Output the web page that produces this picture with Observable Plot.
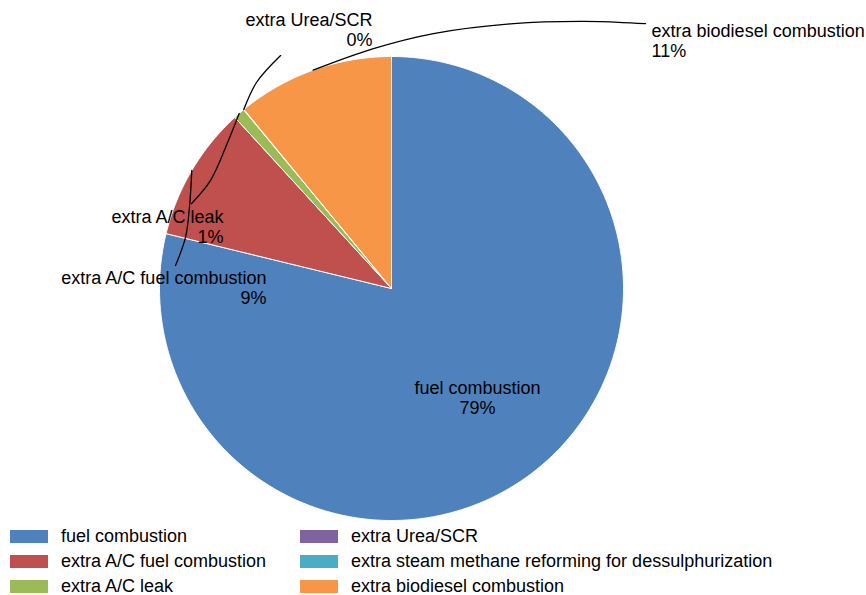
<!DOCTYPE html>
<html>
<head>
<meta charset="utf-8">
<script src="https://cdn.jsdelivr.net/npm/d3@7"></script>
<script src="https://cdn.jsdelivr.net/npm/@observablehq/plot@0.6"></script>
<style>
  body { margin: 0; background: #fff; font-family: "Liberation Sans", Arial, sans-serif; }
  #legend {
    display: grid;
    grid-template-columns: 290px auto;
    grid-template-rows: repeat(3, 25px);
    grid-auto-flow: column;
    padding-left: 10px;
    font-size: 18px;
    color: #000;
  }
  #legend .item { display: flex; align-items: center; white-space: nowrap; }
  #legend .sw { width: 38px; height: 13px; margin-right: 13px; flex: none; }
</style>
</head>
<body>
<div id="chart"></div>
<div id="legend"></div>
<script>
// datos
const categories = [
  'fuel combustion',
  'extra A/C fuel combustion',
  'extra A/C leak',
  'extra Urea/SCR',
  'extra steam methane reforming for dessulphurization',
  'extra biodiesel combustion',
]
const shares = [78.8, 9.4, 0.8, 0.03, 0, 10.97]
const colors = ['#4F81BD', '#C0504D', '#9BBB59', '#8064A2', '#4BACC6', '#F79646']

// layout: pie centre / radius in px, labels in radius units
const W = 866, H = 524, cx = 391, cy = 288, R = 232
const labelLayout = {
  'fuel combustion': {x: 0.371, y: -0.47, anchor: 'middle'},
  'extra A/C fuel combustion': {x: -0.539, y: 0.004, anchor: 'end',
    via: [[-0.871, 0.349], [-0.888, 0.22], [-0.931, 0.099]]},
  'extra A/C leak': {x: -0.724, y: 0.265, anchor: 'end',
    via: [[-0.703, 0.638], [-0.78, 0.466], [-0.862, 0.366]]},
  'extra Urea/SCR': {x: -0.082, y: 1.116, anchor: 'end',
    via: [[-0.582, 0.888], [-0.478, 1.004]]},
  'extra biodiesel combustion': {x: 1.121, y: 1.069, anchor: 'start',
    via: [[-0.078, 1.034], [0.181, 1.099], [0.526, 1.142], [0.828, 1.151], [1.095, 1.142]]},
}

const rows = categories.map((c, i) => ({cat: c, share: shares[i]}))
const arcs = d3.pie().sort(null).value(d => d.share)(rows)

// slice outlines
const slicePts = arcs.filter(a => a.value > 0).flatMap(a => {
  const n = Math.max(2, Math.ceil((a.endAngle - a.startAngle) / 0.01))
  const pts = [{cat: a.data.cat, x: 0, y: 0}]
  for (let i = 0; i <= n; i++) {
    const t = a.startAngle + (a.endAngle - a.startAngle) * i / n
    pts.push({cat: a.data.cat, x: Math.sin(t), y: Math.cos(t)})
  }
  pts.push({cat: a.data.cat, x: 0, y: 0})
  return pts
})

const labels = arcs.filter(a => a.value > 0 && labelLayout[a.data.cat]).map(a => {
  const L = labelLayout[a.data.cat]
  return {cat: a.data.cat, x: L.x, y: L.y, anchor: L.anchor,
    text: a.data.cat + '\n' + Math.round(a.value) + '%'}
})

const leaders = arcs.filter(a => a.value > 0 && labelLayout[a.data.cat] && labelLayout[a.data.cat].via).flatMap(a => {
  const mid = (a.startAngle + a.endAngle) / 2
  const via = labelLayout[a.data.cat].via
  return [{cat: a.data.cat, x: Math.sin(mid), y: Math.cos(mid)}]
    .concat(via.map(p => ({cat: a.data.cat, x: p[0], y: p[1]})))
})

const textOpts = {x: 'x', y: 'y', text: 'text', fontSize: 18, lineHeight: 1.1, fill: '#000'}

let chart = Plot.plot({
  width: W,
  height: H,
  margin: 0,
  style: {fontFamily: '"Liberation Sans", Arial, sans-serif', background: '#fff'},
  x: {domain: [-cx / R, (W - cx) / R], axis: null},
  y: {domain: [-(H - cy) / R, cy / R], axis: null},
  color: {domain: categories, range: colors},
  marks: [
    Plot.line(slicePts, {x: 'x', y: 'y', z: 'cat', fill: 'cat', stroke: '#fff', strokeWidth: 1, curve: 'linear'}),
    Plot.line(leaders, {x: 'x', y: 'y', z: 'cat', stroke: '#000', strokeWidth: 1.3, curve: 'catmull-rom'}),
    Plot.text(labels.filter(d => d.anchor === 'middle'), {...textOpts, textAnchor: 'middle'}),
    Plot.text(labels.filter(d => d.anchor === 'end'), {...textOpts, textAnchor: 'end'}),
    Plot.text(labels.filter(d => d.anchor === 'start'), {...textOpts, textAnchor: 'start'}),
  ],
})
d3.select('#chart').append(() => chart)

// leyenda
const leg = d3.select('#legend')
categories.forEach((c, i) => {
  const it = leg.append('div').attr('class', 'item')
  it.append('div').attr('class', 'sw').style('background', colors[i])
  it.append('span').text(c)
})
</script>
</body>
</html>
